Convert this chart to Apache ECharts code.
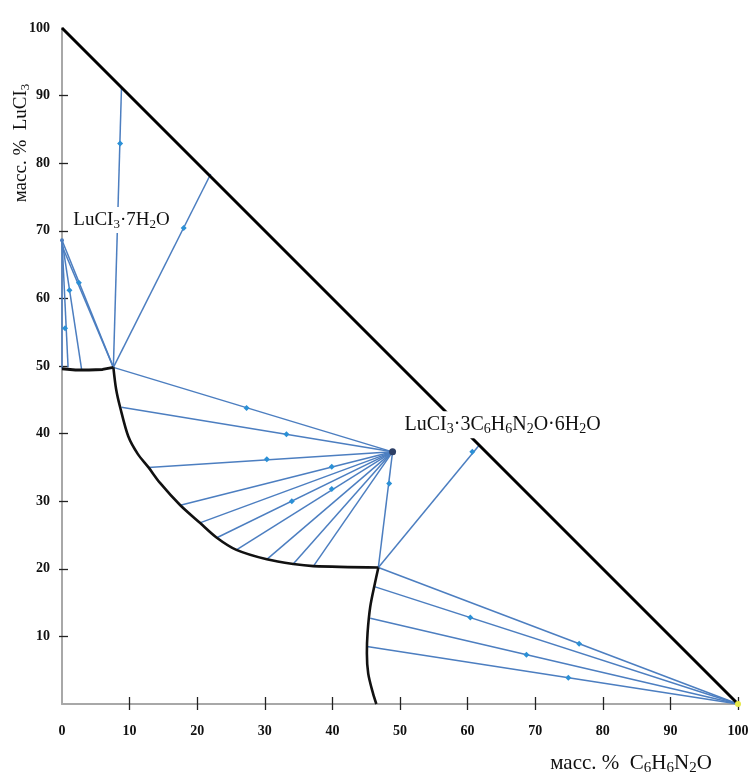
<!DOCTYPE html>
<html><head><meta charset="utf-8">
<script src="https://cdn.jsdelivr.net/npm/echarts@6/dist/echarts.min.js"></script>
<style>html,body{margin:0;padding:0;background:#fff}#c{width:751px;height:772px}</style>
</head><body><div id="c"></div>
<script>
// ---- tick values ----
const xLabelValues = [0,10,20,30,40,50,60,70,80,90,100];
const xTickValues = [10,20,30,40,50,60,70,80,90,100];
const yLabelValues = [10,20,30,40,50,60,70,80,90,100];
const yTickValues = [10,20,30,40,50,60,70,80,90];

// ---- key points (mass %: [C6H6N2O, LuCl3]) ----
const hydratePoint = [0, 68.6];        // LuCl3·7H2O
const compoundPoint = [48.9, 37.3];    // LuCl3·3C6H6N2O·6H2O
const amidePoint = [100, 0];           // C6H6N2O

// ---- triangle side ----
const hypotenuse = [[0,100],[100,0]];

// ---- solubility curve branches ----
const branchHydrate = [[0,49.6],[2,49.4],[4,49.4],[6,49.5],[7.6,49.8]];
const branchCompound = [[7.6,49.8],[8.0,46.6],[8.6,43.9],[9.8,39.6],[11.2,37.0],[12.8,35.0],[14.5,32.7],[17.5,29.4],[20.4,26.8],[22.9,24.6],[25.8,22.8],[30.3,21.4],[34.2,20.7],[37.2,20.4],[46.8,20.2]];
const branchAmide = [[46.8,20.2],[46.3,17.9],[45.6,14.4],[45.2,10.5],[45.1,7.5],[45.3,4.5],[46.0,1.6],[46.5,0]];

// ---- tie lines (start -> end) ----
const tieHydrate = [
  [[0,68.6],[0,49.6]],
  [[0,68.6],[0.9,49.8]],
  [[0,68.6],[2.9,49.5]],
  [[0,68.6],[7.6,49.8]],
  [[0,67.8],[7.6,49.8]]
];
const tieUpper = [
  [[7.6,49.8],[8.8,91.2]],
  [[7.6,49.8],[22.0,78.4]]
];
const tieCompound = [
  [[7.6,49.8],[48.9,37.3]],
  [[8.8,43.9],[48.9,37.3]],
  [[12.8,35.0],[48.9,37.3]],
  [[17.5,29.4],[48.9,37.3]],
  [[20.4,26.8],[48.9,37.3]],
  [[22.9,24.6],[48.9,37.3]],
  [[25.8,22.8],[48.9,37.3]],
  [[30.3,21.4],[48.9,37.3]],
  [[34.2,20.7],[48.9,37.3]],
  [[37.2,20.4],[48.9,37.3]],
  [[46.8,20.2],[48.9,37.3]],
  [[46.8,20.2],[61.8,38.4]]
];
const tieAmide = [
  [[46.8,20.2],[100,0]],
  [[46.1,17.4],[100,0]],
  [[45.6,12.7],[100,0]],
  [[45.1,8.5],[100,0]]
];

// ---- figurative points on tie lines ----
const mixPoints = [[0.45,55.6],[1.1,61.2],[2.5,62.3],[8.6,82.9],[18.0,70.4],
  [27.3,43.8],[33.2,39.9],[30.3,36.2],[39.9,35.1],[39.9,31.8],[34.0,30.0],[48.4,32.6],
  [60.7,37.3],[60.4,12.8],[76.5,8.9],[68.7,7.3],[74.9,3.9]];

// ---- annotations ----
const labelHydrate = [1.3, 71.6];
const labelCompound = [50.3, 41.3];

const SERIF = 'Liberation Serif, Times New Roman, DejaVu Serif, serif';
const INK = '#111';
const richSub = {
  n: {fontFamily: SERIF, fontSize: 19, lineHeight: 22, color: INK},
  s: {fontFamily: SERIF, fontSize: 13, lineHeight: 13, padding: [9,0,0,0], color: INK},
  N: {fontFamily: SERIF, fontSize: 20, lineHeight: 23, color: INK},
  S: {fontFamily: SERIF, fontSize: 14, lineHeight: 14, padding: [9,0,0,0], color: INK}
};
const BLUE = '#4c7ec0';
const toLines = arr => arr.map(p => ({coords: p}));

const chart = echarts.init(document.getElementById('c'), null, {renderer: 'canvas'});
const axisLabelStyle = {fontFamily: SERIF, fontWeight: 'bold', fontSize: 14, color: '#111'};

chart.setOption({
  animation: false,
  backgroundColor: '#fff',
  grid: {left: 62, right: 13, top: 28, bottom: 68, containLabel: false, outerBoundsMode: 'none'},
  xAxis: [{
    type: 'value', min: 0, max: 100, interval: 10,
    splitLine: {show: false},
    axisLine: {show: true, onZero: false, lineStyle: {color: '#a8a8a8', width: 2}},
    axisTick: {show: true, customValues: xTickValues, length: 6, lineStyle: {color: '#222', width: 1.3}},
    axisLabel: {customValues: xLabelValues, margin: 20, ...axisLabelStyle},
    name: 'масс. %  C{s|6}H{s|6}N{s|2}O',
    nameLocation: 'middle', nameGap: 49, nameMoveOverlap: false,
    nameTextStyle: {fontFamily: SERIF, fontSize: 21, color: INK, padding: [0,0,0,462], rich: {
      s: {fontFamily: SERIF, fontSize: 15, lineHeight: 15, padding: [9,0,0,0], color: INK}}}
  }, {
    type: 'value', min: 0, max: 100, interval: 10, position: 'bottom',
    splitLine: {show: false}, axisLine: {show: false},
    axisTick: {show: true, inside: true, customValues: xTickValues, length: 7, lineStyle: {color: '#222', width: 1.3}},
    axisLabel: {show: false}
  }],
  yAxis: [{
    type: 'value', min: 0, max: 100, interval: 10,
    splitLine: {show: false},
    axisLine: {show: true, onZero: false, lineStyle: {color: '#a8a8a8', width: 2}},
    axisTick: {show: true, customValues: yTickValues, length: 3, lineStyle: {color: '#222', width: 1.3}},
    axisLabel: {customValues: yLabelValues, margin: 12, ...axisLabelStyle},
    name: 'масс. %  LuCI{s|3}',
    nameLocation: 'middle', nameGap: 31, nameMoveOverlap: false,
    nameTextStyle: {fontFamily: SERIF, fontSize: 19, color: INK, padding: [0,0,0,446], rich: richSub}
  }, {
    type: 'value', min: 0, max: 100, interval: 10, position: 'left',
    splitLine: {show: false}, axisLine: {show: false},
    axisTick: {show: true, inside: true, customValues: yTickValues, length: 6, lineStyle: {color: '#222', width: 1.3}},
    axisLabel: {show: false}
  }],
  series: [
    {type: 'lines', coordinateSystem: 'cartesian2d', data: toLines(tieHydrate), z: 2,
     lineStyle: {color: BLUE, width: 1.5, opacity: 1}},
    {type: 'lines', coordinateSystem: 'cartesian2d', data: toLines(tieUpper), z: 2,
     lineStyle: {color: BLUE, width: 1.5, opacity: 1}},
    {type: 'lines', coordinateSystem: 'cartesian2d', data: toLines(tieCompound), z: 2,
     lineStyle: {color: BLUE, width: 1.5, opacity: 1}},
    {type: 'lines', coordinateSystem: 'cartesian2d', data: toLines(tieAmide), z: 2,
     lineStyle: {color: BLUE, width: 1.5, opacity: 1}},
    {type: 'line', data: hypotenuse, symbol: 'none', z: 4, lineStyle: {color: '#000', width: 3}},
    {type: 'line', data: branchHydrate, symbol: 'none', z: 4, lineStyle: {color: '#111', width: 3}},
    {type: 'line', data: branchCompound, symbol: 'none', smooth: 0.3, z: 4, lineStyle: {color: '#111', width: 2.6}},
    {type: 'line', data: branchAmide, symbol: 'none', smooth: 0.3, z: 4, lineStyle: {color: '#111', width: 2.6}},
    {type: 'scatter', data: mixPoints, symbol: 'diamond', symbolSize: 6, z: 5,
     itemStyle: {color: '#2b90d6', opacity: 1}},
    {type: 'scatter', data: [compoundPoint], symbol: 'circle', symbolSize: 7, z: 6,
     itemStyle: {color: '#2d3f66', opacity: 1}},
    {type: 'scatter', data: [amidePoint], symbol: 'circle', symbolSize: 6, z: 6,
     itemStyle: {color: '#e6e84a', opacity: 1}},
    {type: 'scatter', data: [hydratePoint], symbol: 'circle', symbolSize: 4, z: 6,
     itemStyle: {color: '#4c7ec0', opacity: 1}},
    {type: 'scatter', symbolSize: 1, z: 7, itemStyle: {color: '#fff', opacity: 1}, silent: true,
     data: [{value: labelHydrate, label: {formatter: '{n|LuCI}{s|3}{n|·7H}{s|2}{n|O}'}},
            {value: labelCompound, label: {formatter: '{N|LuCI}{S|3}{N|·3C}{S|6}{N|H}{S|6}{N|N}{S|2}{N|O·6H}{S|2}{N|O}'}}],
     label: {show: true, position: 'right', distance: 0, color: INK, backgroundColor: '#fff',
             padding: [2,2,2,2], rich: richSub}}
  ]
});
</script>
</body></html>
